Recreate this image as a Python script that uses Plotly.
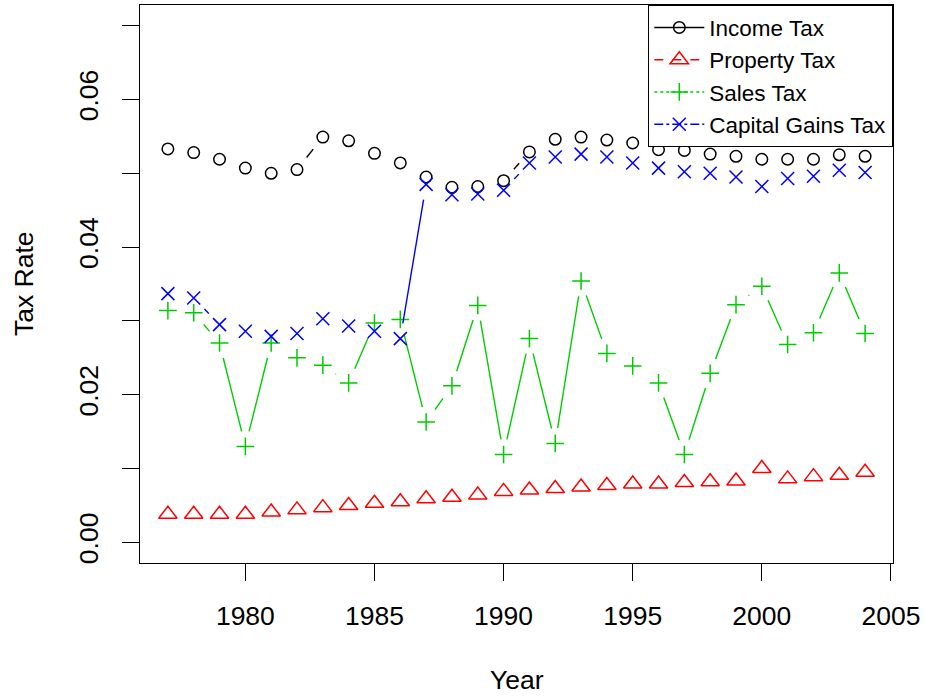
import plotly.graph_objects as go

years = list(range(1977, 2005))

income_tax = [0.0533, 0.0528, 0.0519, 0.0507, 0.0500, 0.0505, 0.0549, 0.0544, 0.0527, 0.0514,
              0.0495, 0.0481, 0.0482, 0.0490, 0.0529, 0.0546, 0.0549, 0.0545, 0.0541, 0.0532,
              0.0531, 0.0526, 0.0523, 0.0519, 0.0519, 0.0519, 0.0525, 0.0523]
property_tax = [0.0038, 0.0038, 0.0038, 0.0038, 0.0041, 0.0044, 0.0047, 0.0050, 0.0053, 0.0055,
                0.0059, 0.0061, 0.0064, 0.0069, 0.0071, 0.0073, 0.0075, 0.0077, 0.0079, 0.0079,
                0.0081, 0.0082, 0.0083, 0.0100, 0.0086, 0.0089, 0.0091, 0.0095]
sales_tax = [0.0314, 0.0311, 0.0270, 0.0130, 0.0270, 0.0250, 0.0240, 0.0216, 0.0297, 0.0302,
             0.0163, 0.0212, 0.0321, 0.0119, 0.0276, 0.0134, 0.0354, 0.0256, 0.0239, 0.0216,
             0.0119, 0.0229, 0.0322, 0.0347, 0.0268, 0.0284, 0.0365, 0.0283]
capital_gains_tax = [0.0337, 0.0331, 0.0295, 0.0286, 0.0279, 0.0283, 0.0303, 0.0293, 0.0286, 0.0276,
                     0.0485, 0.0471, 0.0472, 0.0477, 0.0514, 0.0522, 0.0526, 0.0522, 0.0514, 0.0507,
                     0.0502, 0.0500, 0.0495, 0.0482, 0.0493, 0.0496, 0.0504, 0.0501]

series_names = ["Income Tax", "Property Tax", "Sales Tax", "Capital Gains Tax"]
series_values = [income_tax, property_tax, sales_tax, capital_gains_tax]
colors = ["#000000", "#FF0000", "#00CD00", "#0000FF"]
symbols = ["circle-open", "triangle-up-open", "cross-thin-open", "x-thin-open"]
sizes = [11.5, 16, 12.6, 13]
legend_dash = ["solid", "dash", "dot", "dashdot"]

# figure geometry (R-like)
FIG_W, FIG_H = 925, 696
M_L, M_R, M_T, M_B = 140, 32, 5, 133
PW, PH = FIG_W - M_L - M_R, FIG_H - M_T - M_B
xmin, xmax = min(years), max(years)
ymin_d, ymax_d = 0.0, 0.07
xr = [xmin - 0.04 * (xmax - xmin), xmax + 0.04 * (xmax - xmin)]
yr = [ymin_d - 0.04 * (ymax_d - ymin_d), ymax_d + 0.04 * (ymax_d - ymin_d)]
GAP = 15.4  # px gap around points (type = "b")


def gapped_segments(xs, ys):
    sx = PW / (xr[1] - xr[0])
    sy = PH / (yr[1] - yr[0])
    ox, oy = [], []
    for i in range(len(xs) - 1):
        x0p, y0p = xs[i] * sx, ys[i] * sy
        x1p, y1p = xs[i + 1] * sx, ys[i + 1] * sy
        dx, dy = x1p - x0p, y1p - y0p
        L = (dx * dx + dy * dy) ** 0.5
        if L <= 2 * GAP:
            continue
        f = GAP / L
        ox += [(x0p + f * dx) / sx, (x1p - f * dx) / sx, None]
        oy += [(y0p + f * dy) / sy, (y1p - f * dy) / sy, None]
    return ox, oy


fig = go.Figure()
for name, vals, col, sym, sz, dsh in zip(series_names, series_values, colors, symbols, sizes, legend_dash):
    sx_, sy_ = gapped_segments(years, vals)
    fig.add_trace(go.Scatter(x=sx_, y=sy_, mode="lines", line=dict(color=col, width=1.4),
                             showlegend=False, hoverinfo="skip"))
    fig.add_trace(go.Scatter(x=years, y=vals, mode="markers", name=name, showlegend=False,
                             marker=dict(symbol=sym, size=sz, color=col, line=dict(color=col, width=1.5))))
    # legend entry
    fig.add_trace(go.Scatter(x=[None], y=[None], mode="lines+markers", name=name,
                             line=dict(color=col, width=1.4, dash=dsh),
                             marker=dict(symbol=sym, size=sz, color=col, line=dict(color=col, width=1.5))))

font_family = "Liberation Sans, Arial, Helvetica, sans-serif"
AX_FONT = 26.5

fig.update_layout(
    width=FIG_W, height=FIG_H,
    margin=dict(l=M_L, r=M_R, t=M_T, b=M_B, autoexpand=False),
    paper_bgcolor="white", plot_bgcolor="white",
    font=dict(family=font_family, size=AX_FONT, color="black"),
    showlegend=True,
    legend=dict(x=1, y=1, xanchor="right", yanchor="top", bgcolor="white",
                bordercolor="black", borderwidth=1.3, font=dict(size=22.5),
                tracegroupgap=0, itemsizing="trace", itemwidth=50),
    xaxis=dict(range=xr, tickvals=[1980, 1985, 1990, 1995, 2000, 2005],
               ticks="outside", ticklen=17, tickwidth=1.3, tickcolor="black",
               showline=True, linecolor="black", linewidth=1.3, mirror=True,
               showgrid=False, zeroline=False, ticklabelstandoff=12),
    yaxis=dict(range=yr, tickvals=[0, 0.01, 0.02, 0.03, 0.04, 0.05, 0.06, 0.07],
               ticktext=["0.00", "", "0.02", "", "0.04", "", "0.06", ""],
               tickangle=-90,
               ticks="outside", ticklen=17, tickwidth=1.3, tickcolor="black",
               showline=True, linecolor="black", linewidth=1.3, mirror=True,
               showgrid=False, zeroline=False, ticklabelstandoff=13),
    annotations=[
        dict(text="Year", xref="paper", yref="paper", x=0.5, y=0, xanchor="center",
             yanchor="middle", yshift=-117, showarrow=False, font=dict(size=AX_FONT)),
        dict(text="Tax Rate", xref="paper", yref="paper", x=0, y=0.5, xanchor="center",
             yanchor="middle", xshift=-116, textangle=-90, showarrow=False, font=dict(size=AX_FONT)),
    ],
)

fig.write_html("out.html", config={"displayModeBar": False},
               post_script="document.body.style.margin='0';document.body.style.padding='0';")
